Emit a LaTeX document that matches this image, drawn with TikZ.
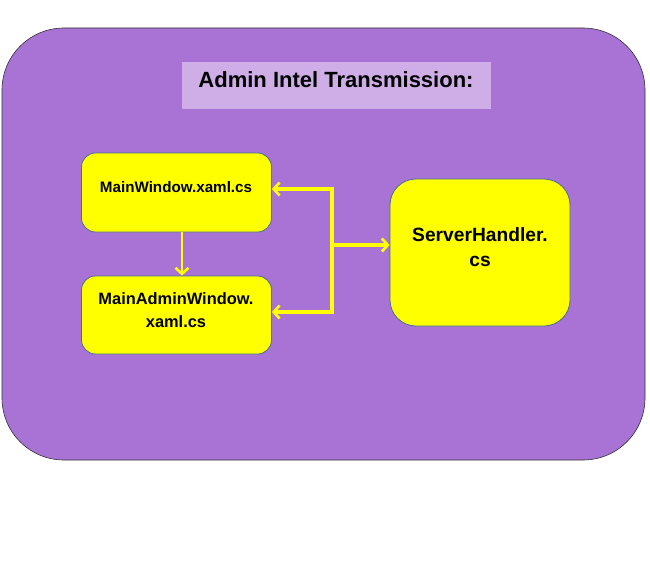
\documentclass[tikz,border=0pt]{standalone}
\usepackage{fontspec}
\setmainfont{Liberation Sans}
\usetikzlibrary{arrows.meta}

\definecolor{bgpurple}{RGB}{169,115,214}
\definecolor{titlelilac}{RGB}{207,174,232}
\definecolor{boxedge}{RGB}{70,110,150}
\definecolor{linkyellow}{RGB}{255,255,0}

\tikzset{
  codebox/.style={draw=boxedge, fill=linkyellow, line width=0.8pt, inner sep=0pt},
  boxtext/.style={font=\bfseries, align=center, inner sep=0pt},
  link/.style={draw=linkyellow, line width=3.4pt, -{Straight Barb[length=6pt,width=13pt,line width=2.6pt]}},
}

\begin{document}
\begin{tikzpicture}[x=1pt, y=-1pt]

    \useasboundingbox (0,0) rectangle (650,578);

    % background panel and title
    \node (panel) [draw=black!80, fill=bgpurple, line width=0.6pt, rounded corners=62pt,
        minimum width=643pt, minimum height=432pt] at (323.5,244) {};
    \node (titlebox) [fill=titlelilac, minimum width=309pt, minimum height=47pt] at (336,85.5) {};
    \node (title) [boxtext, font=\bfseries\fontsize{22}{26}\selectfont] at (336,80) {Admin Intel Transmission:};

    % code files
    \node (mw) [codebox, rounded corners=14pt, minimum width=190pt, minimum height=79pt] at (176.5,192.5) {};
    \node (ma) [codebox, rounded corners=14pt, minimum width=190pt, minimum height=78pt] at (176.5,315) {};
    \node (sh) [codebox, rounded corners=26pt, minimum width=180pt, minimum height=147pt] at (480,252.5) {};

    \node (mwtext) [boxtext, font=\bfseries\fontsize{15.2}{18}\selectfont] at (176,187) {MainWindow.xaml.cs};
    \node (matext) [boxtext, font=\bfseries\fontsize{16.4}{23}\selectfont] at (176,310) {MainAdminWindow.\\xaml.cs};
    \node (shtext) [boxtext, font=\bfseries\fontsize{19.2}{25}\selectfont] at (480,247) {ServerHandler.\\cs};

    % connectors
    \coordinate (jtop) at (332,189);
    \coordinate (jmid) at (332,245);
    \coordinate (jbot) at (332,312);

    \draw [link] (jmid) -- (jmid -| sh.west);
    \draw [link] (jmid) -- (jtop) -- (jtop -| mw.east);
    \draw [link] (jmid) -- (jbot) -- (jbot -| ma.east);
    \draw [link, line width=2.4pt] ([xshift=5.5pt]mw.south) -- ([xshift=5.5pt]ma.north);

  \end{tikzpicture}
\end{document}
